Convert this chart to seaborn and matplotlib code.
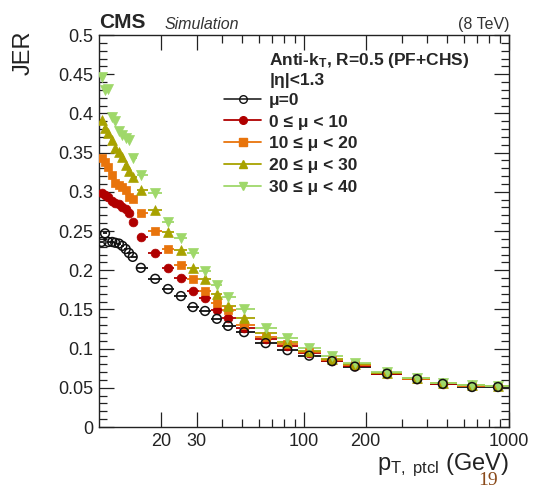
import numpy as np
import pandas as pd
import matplotlib
matplotlib.use("Agg")
import matplotlib.pyplot as plt
import seaborn as sns
from matplotlib.ticker import FixedLocator, NullFormatter, MultipleLocator, FixedFormatter
from matplotlib.lines import Line2D

# ---------------- data ----------------
pt = [10.3, 10.7, 11.1, 11.6, 12.0, 12.5, 13.0, 13.5, 14.0, 14.6,
      16.0, 18.8, 21.7, 25.1, 28.7, 32.9, 37.6, 42.6, 51, 65, 83,
      106, 137, 177, 254, 356, 475, 660, 883]

jer_mu0 = [0.236, 0.247, 0.236, 0.236, 0.235, 0.234, 0.231, 0.227, 0.222, 0.217,
           0.203, 0.189, 0.176, 0.167, 0.153, 0.148, 0.138, 0.129, 0.121, 0.107, 0.098,
           0.091, 0.084, 0.077, 0.068, 0.061, 0.055, 0.051, 0.051]
jer_0_10 = [0.298, 0.296, 0.293, 0.288, 0.286, 0.284, 0.281, 0.278, 0.273, 0.261,
            0.242, 0.222, 0.203, 0.190, 0.173, 0.165, 0.149, 0.139, 0.126, 0.112, 0.103,
            0.094, 0.084, 0.078, 0.068, 0.061, 0.055, 0.052, 0.052]
jer_10_20 = [0.343, 0.338, 0.332, 0.321, 0.311, 0.309, 0.306, 0.302, 0.293, 0.291,
             0.273, 0.250, 0.227, 0.207, 0.189, 0.173, 0.158, 0.149, 0.130, 0.115, 0.106,
             0.096, 0.085, 0.079, 0.069, 0.061, 0.056, 0.052, 0.052]
jer_20_30 = [0.392, 0.381, 0.375, 0.366, 0.356, 0.351, 0.344, 0.334, 0.327, 0.319,
             0.302, 0.277, 0.249, 0.226, 0.203, 0.189, 0.170, 0.154, 0.139, 0.120, 0.108,
             0.097, 0.087, 0.080, 0.069, 0.062, 0.056, 0.053, 0.052]
jer_30_40 = [0.446, 0.430, 0.431, 0.395, 0.390, 0.378, 0.372, 0.368, 0.366, 0.343,
             0.321, 0.298, 0.261, 0.241, 0.222, 0.199, 0.181, 0.166, 0.151, 0.126, 0.114,
             0.101, 0.091, 0.082, 0.070, 0.062, 0.056, 0.053, 0.052]

labels = ["μ=0", "0 ≤ μ < 10", "10 ≤ μ < 20", "20 ≤ μ < 30", "30 ≤ μ < 40"]
series = [jer_mu0, jer_0_10, jer_10_20, jer_20_30, jer_30_40]
colors = ["#111111", "#b00000", "#e8740c", "#a8a200", "#9fd86a"]
markers = ["o", "o", "s", "^", "v"]
sizes = [40, 40, 36, 50, 52]

xticks_major = [20, 30, 100, 200, 1000]
xtick_labels = ["20", "30", "100", "200", "1000"]
yticks = [0, 0.05, 0.1, 0.15, 0.2, 0.25, 0.3, 0.35, 0.4, 0.45, 0.5]
ytick_labels = ["0", "0.05", "0.1", "0.15", "0.2", "0.25", "0.3", "0.35", "0.4", "0.45", "0.5"]

# ---------------- style ----------------
sns.set_style("ticks")
plt.rcParams['font.family'] = ['Liberation Sans', 'DejaVu Sans']
plt.rcParams['mathtext.fontset'] = 'custom'
plt.rcParams['mathtext.rm'] = 'Liberation Sans'
plt.rcParams['mathtext.it'] = 'Liberation Sans:italic'
plt.rcParams['mathtext.bf'] = 'Liberation Sans:bold'

fig = plt.figure(figsize=(5.53, 4.90), dpi=100)
ax = fig.add_axes([99 / 553, 1 - 427 / 490, 410 / 553, 392 / 490])

pt_arr = np.array(pt, dtype=float)
mids = np.sqrt(pt_arr[:-1] * pt_arr[1:])
lo = np.concatenate([[pt_arr[0] ** 2 / mids[0]], mids])
hi = np.concatenate([mids, [pt_arr[-1] ** 2 / mids[-1]]])
xerr = np.vstack([pt_arr - lo, hi - pt_arr])

draw_order = [1, 2, 3, 4, 0]
for i in draw_order:
    df = pd.DataFrame({"pt": pt_arr, "jer": series[i]})
    ax.errorbar(df["pt"], df["jer"], xerr=xerr, fmt="none", ecolor=colors[i],
                elinewidth=1.3, capsize=0, zorder=2 + i * 0.1)
    if i == 0:
        sns.scatterplot(data=df, x="pt", y="jer", ax=ax, marker="o", s=sizes[i],
                        facecolor="none", edgecolor=colors[i], linewidth=1.1,
                        zorder=5, legend=False)
    else:
        sns.scatterplot(data=df, x="pt", y="jer", ax=ax, marker=markers[i], s=sizes[i],
                        color=colors[i], edgecolor=colors[i], linewidth=0.5,
                        zorder=3 + i * 0.1, legend=False)

ax.set_xscale("log")
ax.set_xlim(10, 1000)
ax.set_ylim(0, 0.5)
ax.xaxis.set_major_locator(FixedLocator(xticks_major))
ax.xaxis.set_major_formatter(FixedFormatter(xtick_labels))
minor = [m * 10 ** e for e in (1, 2) for m in range(2, 10)]
minor = [v for v in minor if v not in xticks_major]
ax.xaxis.set_minor_locator(FixedLocator(minor))
ax.xaxis.set_minor_formatter(NullFormatter())
ax.yaxis.set_major_locator(FixedLocator(yticks))
ax.yaxis.set_major_formatter(FixedFormatter(ytick_labels))
ax.yaxis.set_minor_locator(MultipleLocator(0.01))
ax.tick_params(which="both", direction="in", top=True, right=True, labelsize=13,
               colors="#222222", width=0.9)
ax.tick_params(which="major", length=11, pad=4)
ax.tick_params(which="minor", length=6)
for s in ax.spines.values():
    s.set_linewidth(1.0)
    s.set_color("#222222")
ax.set_xlabel("")
ax.set_ylabel("")

# axis titles
ax.text(-0.185, 0.955, "JER", rotation=90, ha="center", va="center",
        fontsize=17, transform=ax.transAxes, color="#222222")
ax.text(1.0, -0.098, r"p$_{\mathrm{T,\ ptcl}}$ (GeV)", ha="right", va="center",
        fontsize=17, transform=ax.transAxes, color="#222222")

# header
ax.text(0.0, 1.008, "CMS", fontweight="bold", fontsize=15, ha="left", va="bottom",
        transform=ax.transAxes)
ax.text(0.16, 1.008, "Simulation", fontstyle="italic", fontsize=11.5, ha="left",
        va="bottom", transform=ax.transAxes, color="#333333")
ax.text(1.0, 1.008, "(8 TeV)", fontsize=11.5, ha="right", va="bottom",
        transform=ax.transAxes, color="#333333")

# annotations
ax.text(0.415, 0.936, r"Anti-k$_{\mathbf{T}}$, R=0.5 (PF+CHS)", fontweight="bold",
        fontsize=12.5, ha="left", va="center", transform=ax.transAxes)
ax.text(0.415, 0.884, "|η|<1.3", fontweight="bold", fontsize=12.5, ha="left",
        va="center", transform=ax.transAxes)

handles = []
for i in range(5):
    if i == 0:
        h = Line2D([], [], color=colors[i], marker="o", markerfacecolor="none",
                   markeredgecolor=colors[i], markersize=5.5, linewidth=1.1)
    else:
        h = Line2D([], [], color=colors[i], marker=markers[i], markerfacecolor=colors[i],
                   markeredgecolor=colors[i], markersize=5.5, linewidth=1.3)
    handles.append(h)
leg = ax.legend(handles, labels, loc="upper left", bbox_to_anchor=(0.305, 0.853),
                frameon=False, prop={"weight": "bold", "size": 12.5},
                handlelength=2.15, handletextpad=0.45, labelspacing=0.38,
                borderaxespad=0, borderpad=0)

fig.text(488 / 553, 1 - 480 / 490, "19", fontsize=14, family="Liberation Serif",
         color="#8a4a1a", ha="center", va="center")

fig.savefig("out.png", dpi=100)
